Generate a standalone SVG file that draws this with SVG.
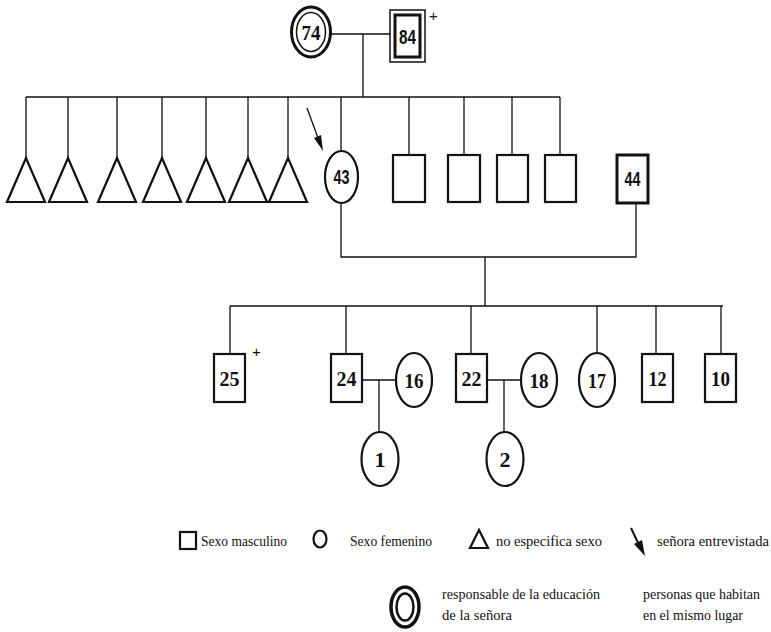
<svg xmlns="http://www.w3.org/2000/svg" width="771" height="632" viewBox="0 0 771 632">
<style>
.ln{stroke:#111;stroke-width:1.3;fill:none}
.nd{stroke:#111;stroke-width:2.2;fill:#fff}
.th{stroke:#111;stroke-width:3;fill:#fff}
.num{font-family:"Liberation Serif",serif;font-weight:bold;font-size:22px;text-anchor:middle;fill:#111}
.sn{font-family:"Liberation Sans",sans-serif;font-weight:bold;font-size:20px;text-anchor:middle;fill:#111}
.lg{font-family:"Liberation Serif",serif;font-size:15px;fill:#111}
.plus{font-family:"Liberation Sans",sans-serif;font-size:15px;fill:#111}
</style>
<rect width="771" height="632" fill="#fff"/>
<g id="connectors">
<path class="ln" d="M330 34H390M363 34V97M26 97H560"/>
<path class="ln" d="M26 97V158M68 97V158M117 97V158M162 97V158M206 97V158M248 97V158M288 97V158"/>
<path class="ln" d="M341 97V151M409 97V155M464 97V155M512 97V155M560 97V155"/>
<path class="ln" d="M341 203V257H636V203M485 257V306M230 306H723"/>
<path class="ln" d="M230 306V354M346 306V354M471 306V354M597 306V353M656 306V354M721 306V354"/>
<path class="ln" d="M362 380H396M379 380V432M487 380H521M504 380V432"/>
<path class="ln" d="M307 108L318 138"/>
<path d="M323 151L314 138L321 135Z" fill="#111"/>
</g>
<g id="n74"><ellipse class="th" cx="311" cy="32" rx="19.5" ry="25"/><ellipse cx="311" cy="32" rx="14.5" ry="19.5" fill="none" stroke="#111" stroke-width="1.5"/><text class="num" x="311" y="40" font-size="24" textLength="19" lengthAdjust="spacingAndGlyphs">74</text></g>
<g id="n84"><rect x="390" y="10" width="35" height="52" fill="#fff" stroke="#111" stroke-width="1.5"/><rect x="395" y="15" width="25" height="42" fill="none" stroke="#111" stroke-width="3"/><text class="sn" x="407.5" y="44" font-size="23" textLength="17" lengthAdjust="spacingAndGlyphs">84</text><text class="plus" x="429" y="21">+</text></g>
<g id="t1"><path class="nd" d="M26 158L7 202H45Z"/></g>
<g id="t2"><path class="nd" d="M68 158L49 202H87Z"/></g>
<g id="t3"><path class="nd" d="M117 158L98 202H136Z"/></g>
<g id="t4"><path class="nd" d="M162 158L143 202H181Z"/></g>
<g id="t5"><path class="nd" d="M206 158L187 202H225Z"/></g>
<g id="t6"><path class="nd" d="M248 158L229 202H267Z"/></g>
<g id="t7"><path class="nd" d="M288 158L269 202H307Z"/></g>
<g id="n43"><ellipse class="nd" cx="341.5" cy="177" rx="16.5" ry="26"/><text class="sn" x="341.5" y="184" textLength="16" lengthAdjust="spacingAndGlyphs">43</text></g>
<g id="m1"><rect class="nd" x="393" y="155" width="32" height="47"/></g>
<g id="m2"><rect class="nd" x="448" y="155" width="32" height="47"/></g>
<g id="m3"><rect class="nd" x="497" y="155" width="31" height="47"/></g>
<g id="m4"><rect class="nd" x="545" y="155" width="31" height="47"/></g>
<g id="n44"><rect class="th" x="617" y="155" width="31" height="48"/><text class="sn" x="632.5" y="186" textLength="16" lengthAdjust="spacingAndGlyphs">44</text></g>
<g id="n25"><rect class="nd" x="214" y="354" width="31" height="48"/><text class="num" x="229.5" y="386" textLength="20" lengthAdjust="spacingAndGlyphs">25</text><text class="plus" x="252" y="357">+</text></g>
<g id="n24"><rect class="nd" x="331" y="354" width="31" height="48"/><text class="num" x="346.5" y="386" textLength="20" lengthAdjust="spacingAndGlyphs">24</text></g>
<g id="n16"><ellipse class="nd" cx="414" cy="380" rx="18" ry="27"/><text class="num" x="414" y="388" textLength="19" lengthAdjust="spacingAndGlyphs">16</text></g>
<g id="n22"><rect class="nd" x="456" y="354" width="31" height="48"/><text class="num" x="471.5" y="386" textLength="20" lengthAdjust="spacingAndGlyphs">22</text></g>
<g id="n18"><ellipse class="nd" cx="539" cy="380" rx="18" ry="27"/><text class="num" x="539" y="388" textLength="19" lengthAdjust="spacingAndGlyphs">18</text></g>
<g id="n17"><ellipse class="nd" cx="597" cy="380" rx="18" ry="27"/><text class="num" x="597" y="388" textLength="18" lengthAdjust="spacingAndGlyphs">17</text></g>
<g id="n12"><rect class="nd" x="642" y="354" width="31" height="48"/><text class="num" x="657.5" y="386" textLength="18" lengthAdjust="spacingAndGlyphs">12</text></g>
<g id="n10"><rect class="nd" x="705" y="354" width="31" height="48"/><text class="num" x="720.5" y="386" textLength="19" lengthAdjust="spacingAndGlyphs">10</text></g>
<g id="n1"><ellipse class="nd" cx="380" cy="459" rx="18.5" ry="27"/><text class="num" x="380" y="467">1</text></g>
<g id="n2"><ellipse class="nd" cx="505" cy="459" rx="18.5" ry="27"/><text class="num" x="505" y="467">2</text></g>
<g id="legend">
<rect class="nd" x="180" y="532" width="16" height="17"/>
<text class="lg" x="201" y="546" textLength="86" lengthAdjust="spacingAndGlyphs">Sexo masculino</text>
<ellipse class="nd" cx="320" cy="539" rx="6.5" ry="8.5"/>
<text class="lg" x="350" y="546" textLength="82" lengthAdjust="spacingAndGlyphs">Sexo femenino</text>
<path class="nd" d="M479 530L470 548H488Z"/>
<text class="lg" x="496" y="546" textLength="106" lengthAdjust="spacingAndGlyphs">no especifica sexo</text>
<path d="M631 528L639 545" stroke="#111" stroke-width="2"/>
<path d="M645 556L634 544L642 540Z" fill="#111"/>
<text class="lg" x="657" y="546" textLength="112" lengthAdjust="spacingAndGlyphs">señora entrevistada</text>
<ellipse cx="405" cy="607" rx="14" ry="20" fill="none" stroke="#111" stroke-width="3.5"/>
<ellipse cx="405" cy="607" rx="8.5" ry="13.5" fill="none" stroke="#111" stroke-width="2.5"/>
<text class="lg" x="442" y="599" textLength="158" lengthAdjust="spacingAndGlyphs">responsable de la educación</text>
<text class="lg" x="442" y="620" textLength="70" lengthAdjust="spacingAndGlyphs">de la señora</text>
<text class="lg" x="643" y="599" textLength="117" lengthAdjust="spacingAndGlyphs">personas que habitan</text>
<text class="lg" x="643" y="620" textLength="100" lengthAdjust="spacingAndGlyphs">en el mismo lugar</text>
</g>
</svg>
